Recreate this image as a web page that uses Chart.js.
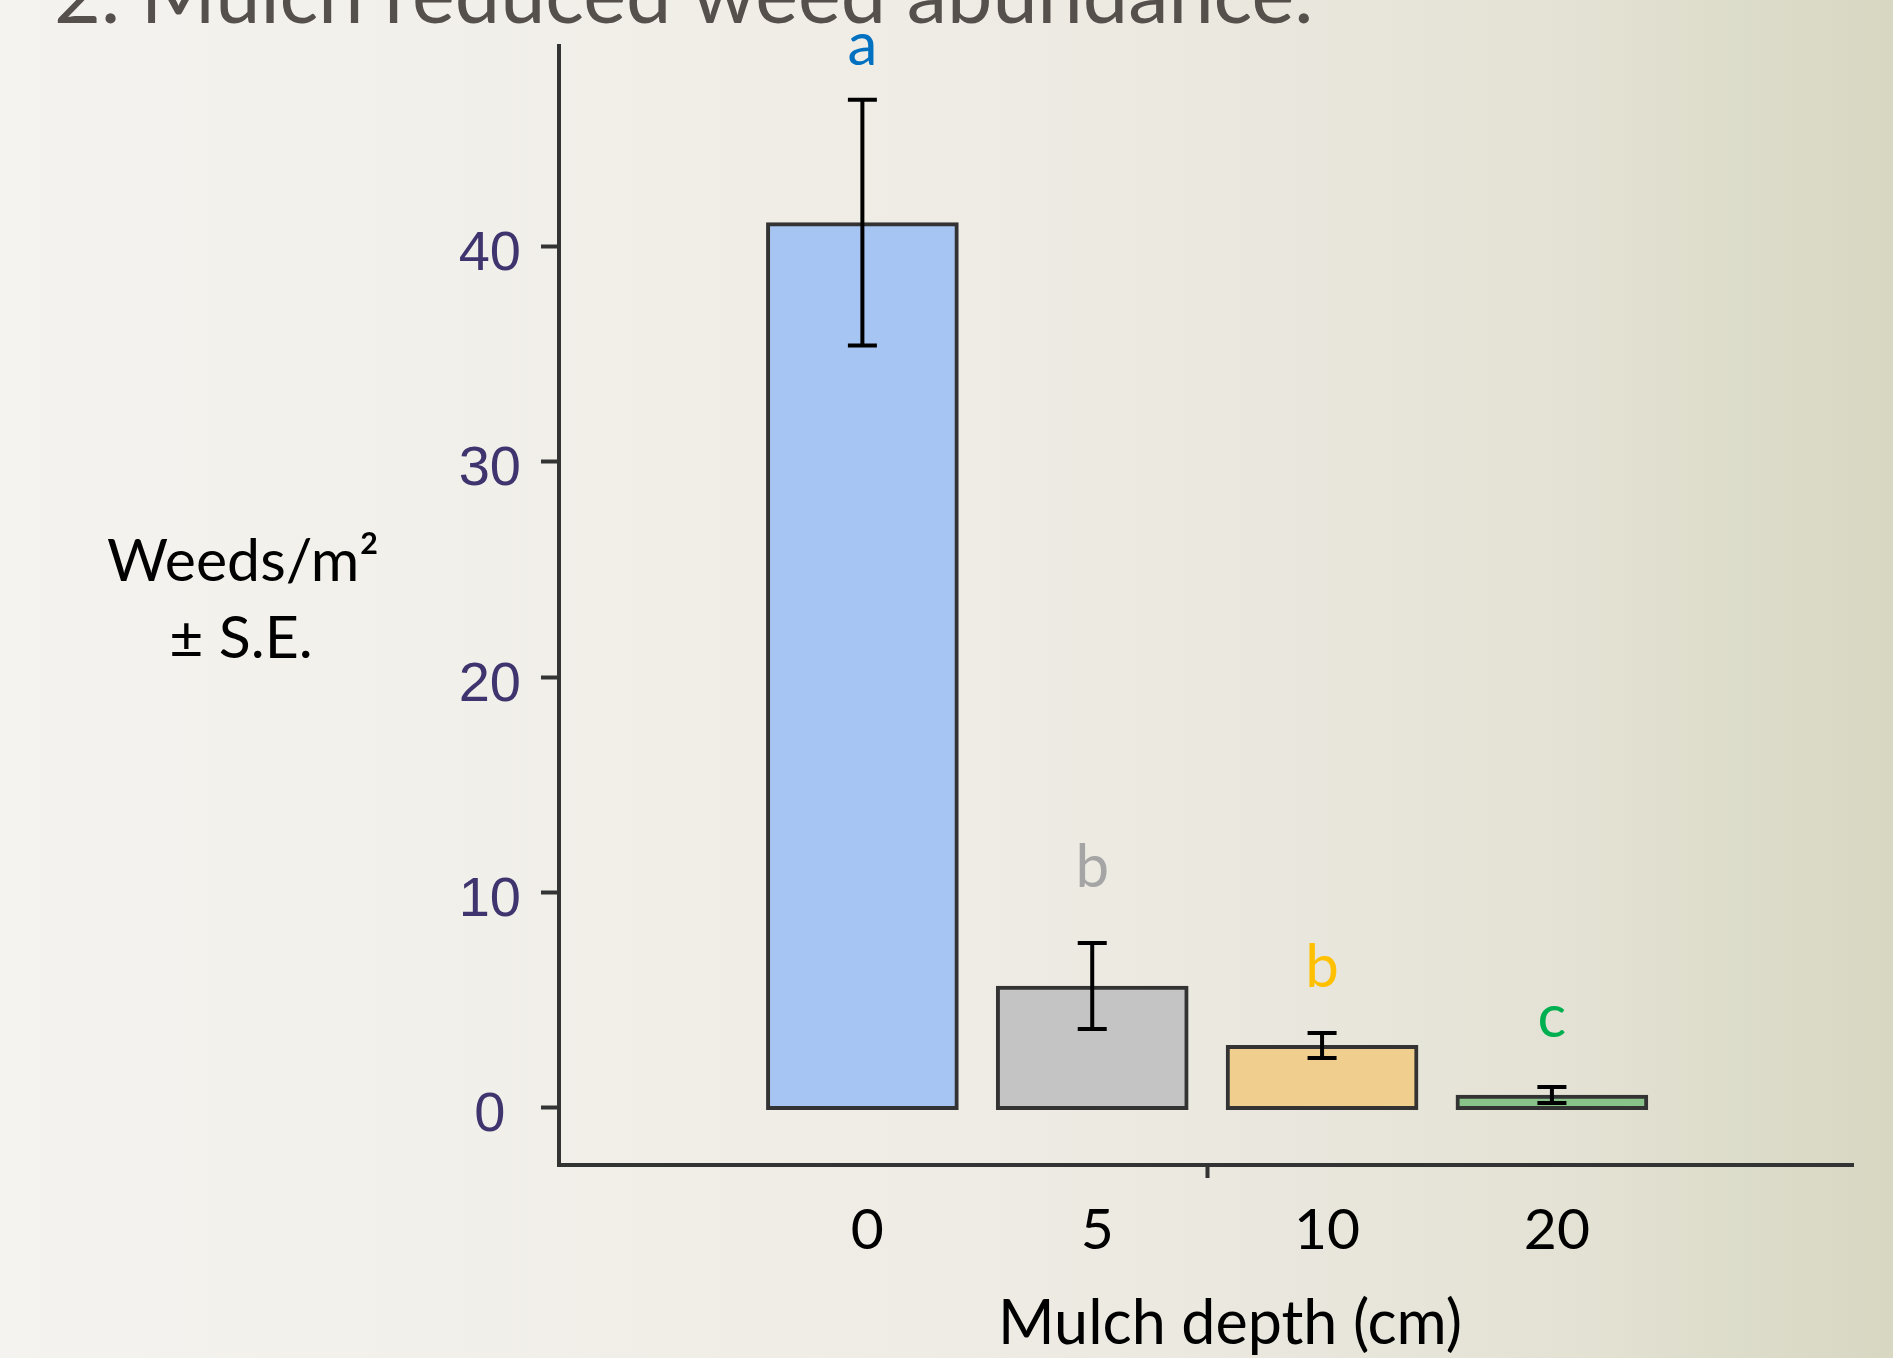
<!DOCTYPE html>
<html><head><meta charset="utf-8">
<script src="https://cdn.jsdelivr.net/npm/chart.js@4.4.1/dist/chart.umd.min.js"></script>
<style>html,body{margin:0;padding:0;overflow:hidden;background:#f0eee7}canvas{display:block}</style>
</head><body>
<canvas id="c" width="1893" height="1358"></canvas>
<script>
// ---- data ----
const categories = ["0", "5", "10", "20"];
const means = [41.1, 5.66, 2.9, 0.6];
const stdErr = [5.7, 2.0, 0.58, 0.37];
const sigLetters = ["a", "b", "b", "c"];
const yTickValues = [0, 10, 20, 30, 40];
const chartTitle = "2. Mulch reduced weed abundance.";
const xTitle = "Mulch depth (cm)";
const yTitleLines = ["Weeds/m\u00B2", "\u00B1 S.E."];

// ---- styles ----
const barFills = ["#a7c5f2", "#c4c4c4", "#f0ce8d", "#88c48a"];
const letterColors = ["#0070c0", "#a5a5a5", "#ffc000", "#00b050"];
const letterGapPx = [35, 56, 46, 50];   // gap between error-bar top and letter baseline

const bgPlugin = {
  id: 'bg',
  beforeDraw(chart) {
    const {ctx, width, height} = chart;
    const g = ctx.createLinearGradient(0, 0, width, 0);
    g.addColorStop(0, '#f5f3ef');
    g.addColorStop(0.5, '#efece5');
    g.addColorStop(0.69, '#e9e7dd');
    g.addColorStop(0.85, '#e2e1d2');
    g.addColorStop(1, '#d7d7c2');
    ctx.save();
    ctx.fillStyle = g;
    ctx.fillRect(0, 0, width, height);
    ctx.restore();
  }
};

const errorBarPlugin = {
  id: 'errorBars',
  afterDatasetsDraw(chart) {
    const {ctx} = chart;
    const y = chart.scales.y;
    const meta = chart.getDatasetMeta(0);
    ctx.save();
    ctx.strokeStyle = '#000';
    ctx.lineWidth = 4;
    const cap = 14.5;
    meta.data.forEach((bar, i) => {
      const hi = y.getPixelForValue(means[i] + stdErr[i]);
      const lo = y.getPixelForValue(means[i] - stdErr[i]);
      const x = bar.x;
      ctx.beginPath();
      ctx.moveTo(x, hi); ctx.lineTo(x, lo);
      ctx.moveTo(x - cap, hi); ctx.lineTo(x + cap, hi);
      ctx.moveTo(x - cap, lo); ctx.lineTo(x + cap, lo);
      ctx.stroke();
    });
    ctx.restore();
  }
};

const textPlugin = {
  id: 'texts',
  afterDraw(chart) {
    const {ctx, chartArea} = chart;
    const y = chart.scales.y;
    const meta = chart.getDatasetMeta(0);
    ctx.save();
    // title (cut off at the top)
    ctx.font = '81px Lato';
    ctx.fillStyle = '#56504d';
    ctx.textAlign = 'left';
    ctx.textBaseline = 'alphabetic';
    ctx.fillText(chartTitle, 54, 23);
    // y title (horizontal, two lines)
    ctx.font = '59px Lato';
    ctx.fillStyle = '#000';
    ctx.textAlign = 'center';
    ctx.fillText(yTitleLines[0], 243, 581);
    ctx.fillText(yTitleLines[1], 241, 658);
    // x title
    ctx.font = '61px Lato';
    ctx.fillText(xTitle, (chartArea.left + chartArea.right) / 2 + 24, 1344);
    // significance letters
    ctx.font = '60px Lato';
    meta.data.forEach((bar, i) => {
      ctx.fillStyle = letterColors[i];
      ctx.fillText(sigLetters[i], bar.x, y.getPixelForValue(means[i] + stdErr[i]) - letterGapPx[i]);
    });
    ctx.restore();
  }
};

new Chart(document.getElementById('c'), {
  type: 'bar',
  data: {
    datasets: [{
      data: categories.map((c, i) => ({x: i, y: means[i]})),
      base: -0.08,
      backgroundColor: barFills,
      borderColor: '#333333',
      borderWidth: 4,
      borderSkipped: false,
      barThickness: 192
    }]
  },
  options: {
    responsive: false,
    animation: false,
    devicePixelRatio: 1,
    layout: {padding: {top: 46, left: 0, right: 40, bottom: 0}},
    plugins: {legend: {display: false}, tooltip: {enabled: false}, title: {display: false}},
    scales: {
      x: {
        type: 'linear',
        offset: false,
        min: -1.32,
        max: 4.31,
        afterBuildTicks: (axis) => { axis.ticks = [0, 1, 1.5, 2, 3].map(v => ({value: v})); },
        afterFit: (axis) => { axis.height = 193; axis.paddingLeft = 0; axis.paddingRight = 0; },
        ticks: {
          autoSkip: false,
          maxRotation: 0,
          minRotation: 0,
          padding: 18,
          labelOffset: 5,
          color: '#000',
          font: {family: 'Lato', size: 57, lineHeight: 1.2},
          callback: (v) => Number.isInteger(v) ? categories[v] : ''
        },
        grid: {
          display: true,
          offset: false,
          drawOnChartArea: false,
          drawTicks: true,
          tickLength: 13,
          tickWidth: 4,
          tickColor: (ctx) => (ctx.tick && ctx.tick.value === 1.5) ? '#333333' : 'rgba(0,0,0,0)'
        },
        border: {display: true, color: '#333333', width: 4}
      },
      y: {
        type: 'linear',
        min: -2.65,
        max: 49.3,
        afterBuildTicks: (axis) => { axis.ticks = yTickValues.map(v => ({value: v})); },
        afterFit: (axis) => { axis.width = 559; axis.paddingTop = 0; axis.paddingBottom = 0; },
        ticks: {
          padding: 20,
          labelOffset: 8,
          crossAlign: 'center',
          color: '#40346e',
          font: {family: 'Liberation Sans', size: 56, lineHeight: 0.9}
        },
        grid: {
          display: true,
          drawOnChartArea: false,
          drawTicks: true,
          tickLength: 18,
          tickWidth: 4,
          tickColor: '#333333'
        },
        border: {display: true, color: '#333333', width: 4}
      }
    }
  },
  plugins: [bgPlugin, errorBarPlugin, textPlugin]
});
</script>
</body></html>
